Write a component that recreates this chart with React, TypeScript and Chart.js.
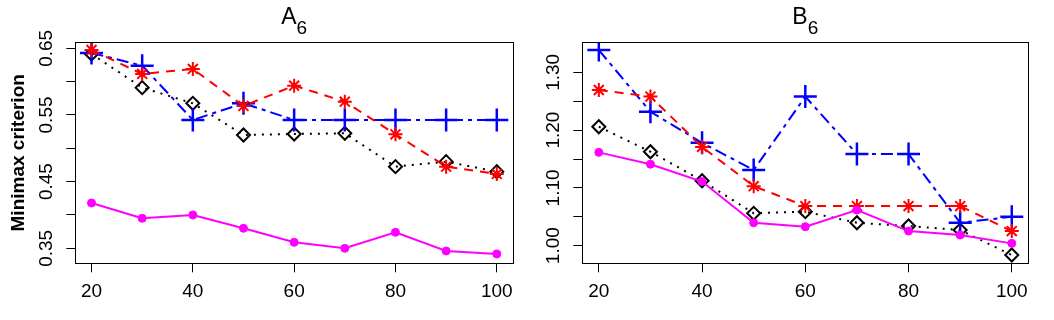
import React, { useEffect, useRef } from 'react';
import { Chart, registerables } from 'chart.js';

Chart.register(...registerables);

const FONT = '"Liberation Sans", Arial, Helvetica, sans-serif';

// x positions (sample sizes)
const xValues = [20, 30, 40, 50, 60, 70, 80, 90, 100];
const xTicks = [20, 40, 60, 80, 100];
const xTickLabels = ['20', '40', '60', '80', '100'];

// Panel A6
const aPlus = [0.643, 0.624, 0.5425, 0.5675, 0.5425, 0.5425, 0.5425, 0.5425, 0.5425];
const aStar = [0.6475, 0.6115, 0.619, 0.5635, 0.594, 0.57, 0.521, 0.4725, 0.4615];
const aDiamond = [0.6415, 0.591, 0.5675, 0.52, 0.5215, 0.5225, 0.4725, 0.48, 0.465];
const aCircle = [0.418, 0.395, 0.4, 0.38, 0.359, 0.35, 0.374, 0.346, 0.3415];
const yTicksA = [0.35, 0.4, 0.45, 0.5, 0.55, 0.6, 0.65];
const yTickLabelsA = ['0.35', '', '0.45', '', '0.55', '', '0.65'];

// Panel B6
const bPlus = [1.3386, 1.2318, 1.178, 1.131, 1.258, 1.1586, 1.1586, 1.0397, 1.05];
const bStar = [1.2694, 1.258, 1.171, 1.103, 1.0686, 1.0686, 1.0686, 1.0686, 1.0253];
const bDiamond = [1.2059, 1.1626, 1.1124, 1.056, 1.0588, 1.0397, 1.034, 1.027, 0.9838];
const bCircle = [1.1615, 1.141, 1.111, 1.0397, 1.0328, 1.0617, 1.0253, 1.0184, 1.004];
const yTicksB = [1.0, 1.05, 1.1, 1.15, 1.2, 1.25, 1.3];
const yTickLabelsB = ['1.00', '', '1.10', '', '1.20', '', '1.30'];

const yTitle = 'Minimax criterion';

const CANVAS_W = 527;
const CANVAS_H = 320;
const PLOT_TOP = 42.3;
const PLOT_BOTTOM = 263.3;

type PanelProps = {
  main: string;
  sub: string;
  plus: number[];
  star: number[];
  diamond: number[];
  circle: number[];
  yMin: number;
  yMax: number;
  yTicks: number[];
  yLabels: string[];
  plotLeft: number;
  plotRight: number;
  showYTitle: boolean;
};

const toPts = (arr: number[]) => xValues.map((x, i) => ({ x, y: arr[i] }));

const boxTitlePlugin = {
  id: 'boxTitle',
  afterDraw(chart: any, _args: any, opts: any) {
    const { ctx, chartArea } = chart;
    const { left, top, right, bottom } = chartArea;
    ctx.save();
    ctx.strokeStyle = '#000';
    ctx.lineWidth = 1;
    ctx.setLineDash([]);
    const l = Math.round(left) + 0.5;
    const t = Math.round(top) + 0.5;
    const r = Math.round(right) + 0.5;
    const b = Math.round(bottom) + 0.5;
    ctx.strokeRect(l, t, r - l, b - t);
    ctx.fillStyle = '#000';
    ctx.textBaseline = 'alphabetic';
    ctx.textAlign = 'left';
    ctx.font = `23px ${FONT}`;
    const wMain = ctx.measureText(opts.main).width;
    ctx.font = `19px ${FONT}`;
    const wSub = ctx.measureText(opts.sub).width;
    const cx = (left + right) / 2;
    const x0 = cx - (wMain + wSub) / 2;
    ctx.font = `23px ${FONT}`;
    ctx.fillText(opts.main, x0, 24);
    ctx.font = `19px ${FONT}`;
    ctx.fillText(opts.sub, x0 + wMain, 34);
    ctx.restore();
  },
};

function Panel(p: PanelProps) {
  const ref = useRef<HTMLCanvasElement | null>(null);
  useEffect(() => {
    if (!ref.current) return;
    const tickFont = { family: FONT, size: 19 };
    const chart = new Chart(ref.current, {
      type: 'line',
      data: {
        datasets: [
          {
            data: toPts(p.circle),
            borderColor: '#FF00FF',
            backgroundColor: '#FF00FF',
            borderWidth: 2,
            pointStyle: 'circle',
            pointRadius: 4,
            pointBorderWidth: 1,
            pointBackgroundColor: '#FF00FF',
            pointBorderColor: '#FF00FF',
            tension: 0,
          },
          {
            data: toPts(p.star),
            borderColor: '#FF0000',
            backgroundColor: '#FF0000',
            borderWidth: 2,
            borderDash: [9, 7],
            pointStyle: 'star',
            pointRadius: 7,
            pointBorderWidth: 2,
            pointBorderColor: '#FF0000',
            tension: 0,
          },
          {
            data: toPts(p.plus),
            borderColor: '#0000FF',
            backgroundColor: '#0000FF',
            borderWidth: 2,
            borderDash: [12, 5, 4, 5],
            pointStyle: 'cross',
            pointRadius: 11.5,
            pointBorderWidth: 2.5,
            pointBorderColor: '#0000FF',
            tension: 0,
          },
          {
            data: toPts(p.diamond),
            borderColor: '#000000',
            backgroundColor: 'rgba(0,0,0,0)',
            borderWidth: 2,
            borderDash: [2, 6],
            pointStyle: 'rectRot',
            pointRadius: 6.5,
            pointBorderWidth: 2,
            pointBorderColor: '#000000',
            pointBackgroundColor: 'rgba(0,0,0,0)',
            tension: 0,
          },
        ],
      },
      options: {
        animation: false,
        responsive: false,
        maintainAspectRatio: false,
        devicePixelRatio: 1,
        layout: {
          padding: { left: 0, right: CANVAS_W - p.plotRight, top: PLOT_TOP, bottom: 0 },
        },
        plugins: {
          legend: { display: false },
          tooltip: { enabled: false },
          boxTitle: { main: p.main, sub: p.sub },
        } as any,
        scales: {
          x: {
            type: 'linear',
            min: 16.8,
            max: 103.2,
            bounds: 'data',
            afterBuildTicks: (s: any) => {
              s.ticks = xTicks.map((v) => ({ value: v }));
            },
            afterFit: (s: any) => {
              s.height = CANVAS_H - PLOT_BOTTOM;
            },
            border: { display: false },
            grid: {
              drawOnChartArea: false,
              drawTicks: true,
              tickLength: 9,
              color: '#000',
              lineWidth: 1,
            },
            ticks: {
              autoSkip: false,
              maxRotation: 0,
              minRotation: 0,
              padding: 8,
              color: '#000',
              font: tickFont,
              callback: (_v: any, i: number) => xTickLabels[i],
            },
          },
          y: {
            type: 'linear',
            min: p.yMin,
            max: p.yMax,
            bounds: 'data',
            afterBuildTicks: (s: any) => {
              s.ticks = p.yTicks.map((v) => ({ value: v }));
            },
            afterFit: (s: any) => {
              s.width = p.plotLeft;
            },
            border: { display: false },
            grid: {
              drawOnChartArea: false,
              drawTicks: true,
              tickLength: 9,
              color: '#000',
              lineWidth: 1,
            },
            ticks: {
              autoSkip: false,
              minRotation: 90,
              maxRotation: 90,
              crossAlign: 'center',
              padding: 1.5,
              color: '#000',
              font: tickFont,
              callback: (_v: any, i: number) => p.yLabels[i],
            },
            title: {
              display: p.showYTitle,
              text: yTitle,
              color: '#000',
              font: { family: FONT, size: 19, weight: 'bold' },
              padding: { top: 7, bottom: 0 },
            },
          },
        },
      } as any,
      plugins: [boxTitlePlugin],
    });
    return () => chart.destroy();
  }, []);
  return <canvas ref={ref} width={CANVAS_W} height={CANVAS_H} style={{ display: 'block', width: CANVAS_W, height: CANVAS_H }} />;
}

export default function App() {
  return (
    <div
      style={{
        position: 'absolute',
        left: 0,
        top: 0,
        width: 1054,
        height: 320,
        background: '#fff',
        display: 'flex',
        flexDirection: 'row',
      }}
    >
      <Panel
        main="A"
        sub="6"
        plus={aPlus}
        star={aStar}
        diamond={aDiamond}
        circle={aCircle}
        yMin={0.3275}
        yMax={0.659}
        yTicks={yTicksA}
        yLabels={yTickLabelsA}
        plotLeft={75.3}
        plotRight={520.3}
        showYTitle={true}
      />
      <Panel
        main="B"
        sub="6"
        plus={bPlus}
        star={bStar}
        diamond={bDiamond}
        circle={bCircle}
        yMin={0.9695}
        yMax={1.352}
        yTicks={yTicksB}
        yLabels={yTickLabelsB}
        plotLeft={55.3}
        plotRight={501.3}
        showYTitle={false}
      />
    </div>
  );
}
